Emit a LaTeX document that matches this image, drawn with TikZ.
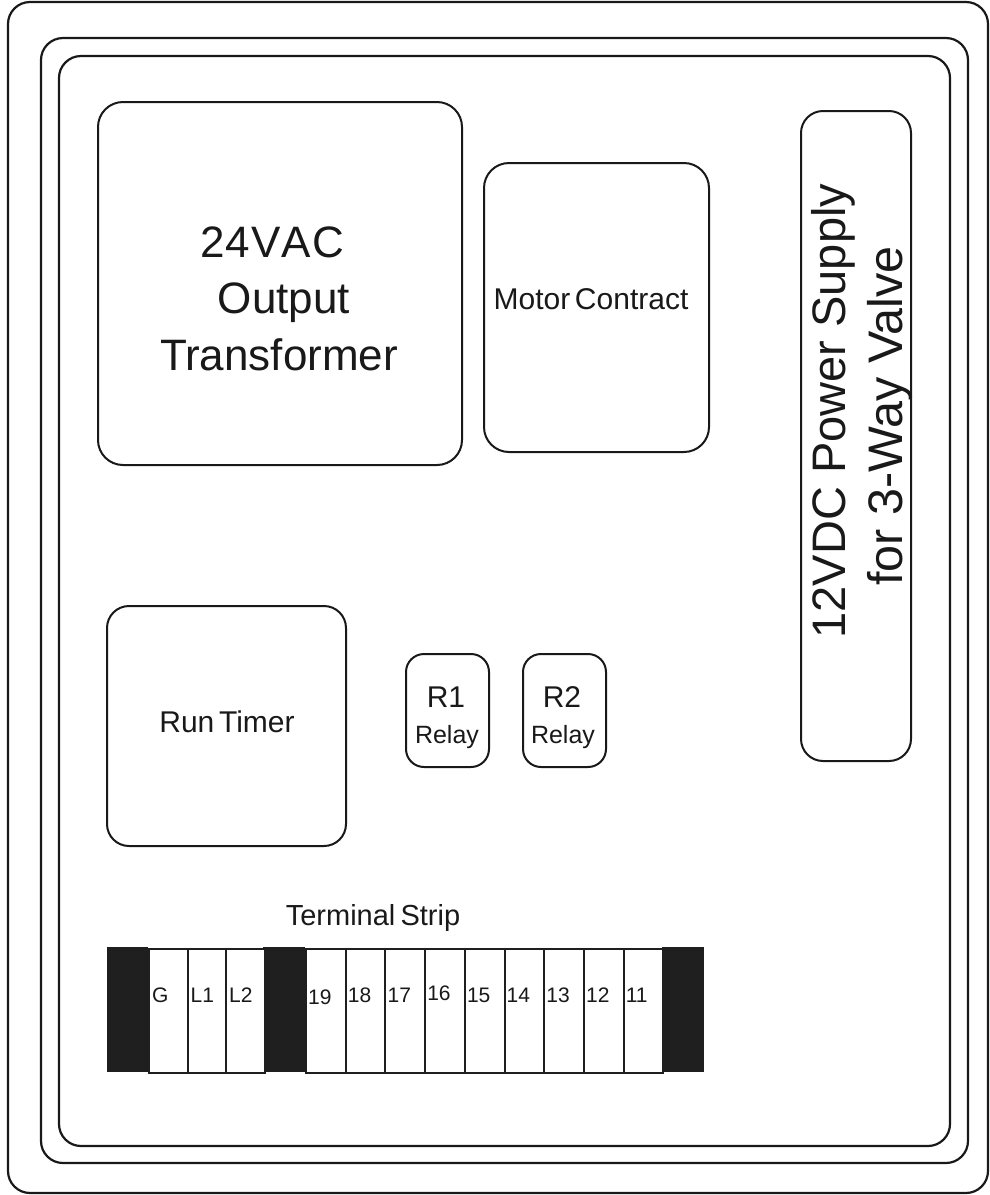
\documentclass[tikz,border=0pt]{standalone}
\usepackage{fontspec}
\setmainfont{Liberation Sans}
\begin{document}
\begin{tikzpicture}[x=1pt,y=-1pt,
  frame/.style={draw=black!90,line width=2.2pt,rounded corners=22pt},
  box/.style={draw=black!90,line width=2pt,inner sep=0pt,anchor=north west},
  blk/.style={fill=black!88,draw=none,inner sep=0pt,anchor=north west,minimum height=125pt},
  cell/.style={fill=white,draw=black!88,line width=2pt,inner sep=0pt,anchor=north west,minimum height=124pt,minimum width=38pt},
  lbl/.style={inner sep=0pt,anchor=base west,font=\fontsize{21}{25}\selectfont,text=black!90},
  txt/.style={inner sep=0pt,anchor=base,text=black!90}]
\useasboundingbox (0,0) rectangle (989,1195);
\fill[white] (0,0) rectangle (989,1195);
% frames
\draw[frame] (8,2) rectangle (988,1193);
\draw[frame] (41,38) rectangle (968,1163);
\draw[frame] (59,56) rectangle (950,1146);
% boxes
\node[box,rounded corners=25pt,minimum width=364pt,minimum height=363pt] (trans) at (97,101) {};
\node[box,rounded corners=25pt,minimum width=225pt,minimum height=289pt] (motor) at (483,162) {};
\node[box,rounded corners=22pt,minimum width=110pt,minimum height=650pt] (psu) at (800,110) {};
\node[box,rounded corners=22pt,minimum width=239pt,minimum height=240pt] (timer) at (106,605) {};
\node[box,rounded corners=18pt,minimum width=83pt,minimum height=113pt] (r1) at (405,653) {};
\node[box,rounded corners=18pt,minimum width=83pt,minimum height=113pt] (r2) at (522,653) {};
% texts
\node[txt,font=\fontsize{44}{53}\selectfont] (t1) at (272,257) {2\hspace{0.03em}4\hspace{0.03em}V\hspace{0.02em}A\hspace{0.02em}C};
\node[txt,font=\fontsize{44}{53}\selectfont] (t2) at (284,313) {Output};
\node[txt,font=\fontsize{44}{53}\selectfont] (t3) at (279,370) {Transformer};
\node[txt,font=\fontsize{30}{36}\selectfont] (tm) at (591,309) {Motor\hspace{-0.12em} Contract};
\node[txt,font=\fontsize{30}{36}\selectfont] (tt) at (227,732) {Run\hspace{-0.12em} Timer};
\node[txt,font=\fontsize{30}{36}\selectfont] (tr1) at (446,707) {R1};
\node[txt,font=\fontsize{25}{30}\selectfont] (tr1b) at (447,743) {Relay};
\node[txt,font=\fontsize{30}{36}\selectfont] (tr2) at (562,707) {R2};
\node[txt,font=\fontsize{25}{30}\selectfont] (tr2b) at (563,743) {Relay};
\node[txt,font=\fontsize{47}{56}\selectfont,rotate=90] (tp1) at (845,411) {12VDC Power Supply};
\node[txt,font=\fontsize{48.5}{58}\selectfont,rotate=90] (tp2) at (902,416) {for 3-Way Valve};
\node[txt,font=\fontsize{29}{35}\selectfont] (ts) at (373,925) {Terminal\hspace{-0.1em} Strip};
% terminal strip
\node[blk,minimum width=41pt] (bk1) at (107,947) {};
\node[blk,minimum width=42pt] (bk2) at (263,947) {};
\node[blk,minimum width=42pt] (bk3) at (662,947) {};
\foreach \n/\x in {G/148,L1/186.5,L2/225}{
  \node[cell,minimum width=38.5pt] (c\n) at (\x,947.5) {};
  \node[lbl] (l\n) at (\x+4,1002) {\n};
}
\foreach \n/\x/\dy in {19/305/2,18/344.7/0,17/384.4/0,16/424.1/-2,15/463.8/0,14/503.5/0,13/543.2/0,12/582.9/0,11/622.6/0}{
  \node[cell,minimum width=39.7pt] (c\n) at (\x,947.5) {};
  \node[lbl] (l\n) at (\x+3,1002+\dy) {\n};
}
\end{tikzpicture}
\end{document}
